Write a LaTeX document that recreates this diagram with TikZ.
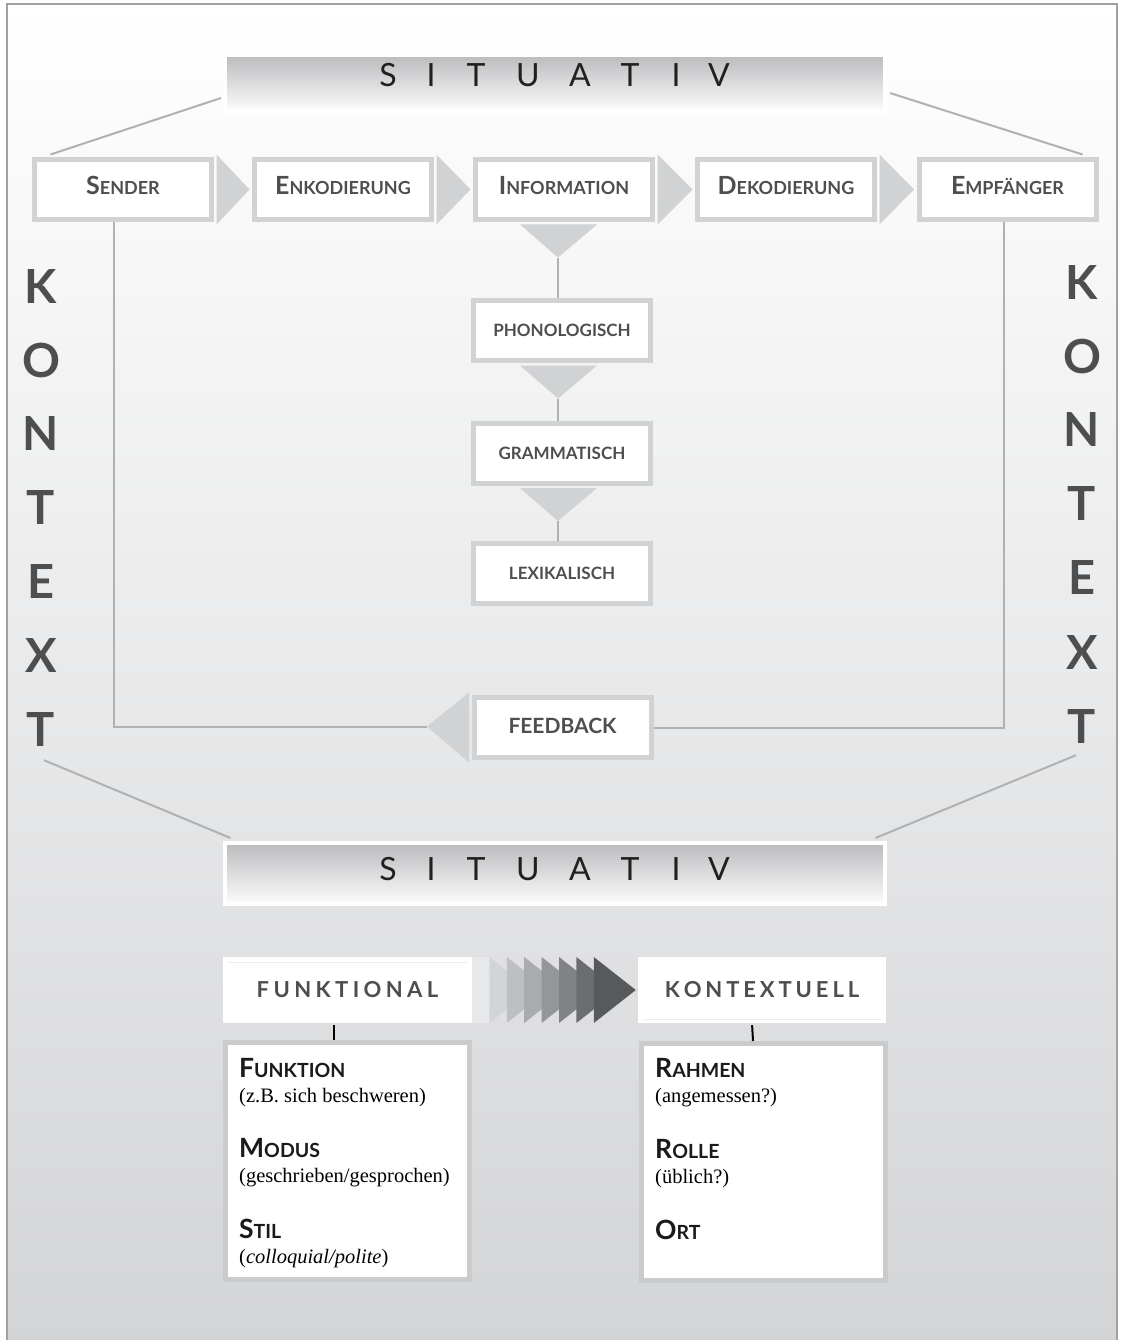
\documentclass[tikz,border=0pt]{standalone}
\usepackage{fontspec}
\newfontfamily\lato{Lato}
\newfontfamily\notefont{Liberation Serif}
\usetikzlibrary{calc}

\definecolor{boxgray}{HTML}{D1D2D4}
\definecolor{linegray}{HTML}{B0B1B3}
\definecolor{framegray}{HTML}{A0A1A3}
\definecolor{labelgray}{HTML}{4D4E50}
\definecolor{darktext}{HTML}{231F20}
\definecolor{headtext}{HTML}{1A1A1A}
\definecolor{bgbottom}{HTML}{D3D4D6}
\definecolor{bartop}{HTML}{BABBBD}
\definecolor{chevlight}{HTML}{E7E8EA}
\definecolor{chevdark}{HTML}{58595B}
\definecolor{listframe}{HTML}{CACBCD}

% fake small caps: large initial, smaller remaining capitals
\newcommand\flowsc[2]{{\fontsize{25}{25}\selectfont #1}{\fontsize{18}{18}\selectfont #2}}
\newcommand\headsc[2]{{\fontsize{26.5}{26.5}\selectfont #1}{\fontsize{19.5}{19.5}\selectfont #2}}

% letter-spaced capitals
\makeatletter
\newcommand\spacedtext[2]{\def\sp@gap{#1}\sp@loop#2\relax\kern-\sp@gap}
\def\sp@loop#1{\ifx\relax#1\else #1\kern\sp@gap\expandafter\sp@loop\fi}
\makeatother

\begin{document}
\begin{tikzpicture}[x=1pt,y=-1pt,
  conn/.style={draw=linegray, line width=2pt},
  flowbox/.style={draw=boxgray, line width=5pt, fill=white, inner sep=0pt,
    minimum width=177pt, minimum height=60pt, font=\lato\bfseries, text=labelgray},
  toplabel/.style={text height=18pt, text depth=7pt},
  stackbox/.style={flowbox, font=\lato\bfseries\fontsize{17}{17}\selectfont,
    text height=12.5pt, text depth=0pt},
  sitbar/.style={draw=white, line width=4pt, top color=bartop, bottom color=white!96!bartop,
    minimum width=660pt, minimum height=56pt, inner sep=0pt},
  sitletter/.style={anchor=base, inner sep=0pt, text=darktext,
    font=\lato\fontsize{32}{32}\selectfont},
  kletter/.style={inner sep=0pt, text=labelgray, font=\lato\bfseries\fontsize{47}{47}\selectfont},
  headbox/.style={fill=white, inner sep=0pt, minimum height=66pt, text=labelgray,
    font=\lato\bfseries\fontsize{22}{22}\selectfont},
  listbox/.style={draw=listframe, line width=5pt, fill=white, minimum width=244pt,
    minimum height=237pt, inner sep=0pt},
  listhead/.style={anchor=base west, inner sep=0pt, text=headtext, font=\lato\bfseries},
  listnote/.style={anchor=base west, inner sep=0pt, text=black, font=\notefont\fontsize{20.5}{20.5}\selectfont},
  tick/.style={draw=black, line width=2pt, shorten <=2pt}
]
\useasboundingbox (0,0) rectangle (1122,1340);
\clip (0,0) rectangle (1122,1340);

% frame with soft vertical gradient
\shade[top color=white, bottom color=bgbottom] (7,4) rectangle (1117,1346);
\draw[framegray, line width=2pt] (7,1346) -- (7,4) -- (1117,4) -- (1117,1346);

% ---------- bars ----------
\node[sitbar] (sit1) at (555,83) {};
\node[sitbar, minimum height=61pt] (sit2) at (554.5,873.5) {};
\foreach \xx/\ll [count=\i] in {388/S,431/I,476/T,528/U,580/A,630/T,676/I,719/V}{
  \node[sitletter] (sa\i) at (\xx,87) {\ll};
  \node[sitletter] (sb\i) at (\xx,880) {\ll};
}

% ---------- KONTEXT columns ----------
\foreach \ll/\yy [count=\i] in {K/287,O/361,N/434,T/508,E/582,X/656,T/730}{
  \node[kletter] (kl\i) at (41,\yy) {\ll};
}
\foreach \ll/\yy [count=\i] in {K/283,O/357,N/430,T/504,E/578,X/653,T/727}{
  \node[kletter] (kr\i) at (1082,\yy) {\ll};
}

% ---------- flow row ----------
\node[flowbox, toplabel] (sender) at (123,189.5)  {\flowsc{S}{ENDER}};
\node[flowbox, toplabel] (enk)    at (343,189.5)  {\flowsc{E}{NKODIERUNG}};
\node[flowbox, toplabel] (info)   at (564,189.5)  {\flowsc{I}{NFORMATION}};
\node[flowbox, toplabel] (dek)    at (786,189.5)  {\flowsc{D}{EKODIERUNG}};
\node[flowbox, toplabel] (emp)    at (1007.5,189.5) {\flowsc{E}{MPFÄNGER}};

\foreach \a/\b in {sender/enk, enk/info, info/dek, dek/emp}{
  \fill[boxgray] ($(\a.north east)+(2.5,-2.5)$) -- ($(\b.west)+(-2.5,0)$)
                 -- ($(\a.south east)+(2.5,2.5)$) -- cycle;
}

% ---------- level stack ----------
\node[stackbox] (phono) at (562,330.5) {PHONOLOGISCH};
\node[stackbox] (gram)  at (562,453)   {GRAMMATISCH};
\node[stackbox] (lex)   at (562,573)   {LEXIKALISCH};

\foreach \a/\b/\dx in {info/phono/-6, phono/gram/-4, gram/lex/-4}{
  \fill[boxgray] ($(\a.south)+(\dx-38,2.5)$) -- ($(\a.south)+(\dx+39,2.5)$)
                 -- ($(\a.south)+(\dx,35.5)$) coordinate (tip-\a) -- cycle;
  \draw[conn] (tip-\a) -- (tip-\a |- \b.north);
}

% ---------- feedback ----------
\node[flowbox, font=\lato\bfseries\fontsize{21}{21}\selectfont, text height=15pt, text depth=3pt]
  (fb) at (562.5,727.5) {FEEDBACK};
\fill[boxgray] ($(fb.north west)+(-2.5,-2.5)$) -- ($(fb.west)+(-44.5,-1)$) coordinate (fbtip)
               -- ($(fb.south west)+(-2.5,2.5)$) -- cycle;
\draw[conn] ([xshift=-9.5pt]sender.south) |- (fbtip);
\draw[conn] (fb.east) -| ([xshift=-4pt]emp.south);

% ---------- diagonal context lines ----------
\draw[conn] ($(sit1.west)+(-2,15)$) -- ($(sender.north west)+(18.5,-2.5)$);
\draw[conn] ($(sit1.east)+(3,10)$) -- ($(emp.north east)+(-16,-2.5)$);
\draw[conn] ($(kl7.south)+(3,13)$) -- ($(sit2.north west)+(8,-3)$);
\draw[conn] ($(kr7.south)+(-6,11)$) -- ($(sit2.north east)+(-11,-3)$);

% ---------- lower section ----------
\node[headbox, minimum width=249pt] (funk) at (347.5,990) {\spacedtext{4.4pt}{FUNKTIONAL}};
\node[headbox, minimum width=248pt] (kont) at (762,990)   {\spacedtext{3.9pt}{KONTEXTUELL}};
\draw[gray!14, line width=0.8pt] ([shift={(5,6)}]funk.north west) -- ([shift={(-5,6)}]funk.north east);
\draw[gray!14, line width=0.8pt] ([shift={(5,-4)}]kont.south west) -- ([shift={(-5,-4)}]kont.south east);

% chevron arrow from light to dark
\foreach \i in {0,...,7}{
  \pgfmathsetmacro\pct{100*\i/7}
  \pgfmathsetmacro\bx{472+17.4*\i}
  \fill[chevdark!\pct!chevlight] (\bx,957) -- (\bx+42,990) -- (\bx,1023) -- cycle;
}
\fill[chevlight] (472,957) -- (489.4,957) -- (489.4,1023) -- (472,1023) -- cycle;
\fill[chevlight] (489.4,957) -- (489.4,1023) -- (472,990) -- cycle;

\node[listbox] (lbox) at (347.5,1161) {};
\node[listbox] (rbox) at (763,1162)   {};
\draw[tick] ([xshift=-13.5pt]funk.south) -- ([xshift=-13.5pt]lbox.north);
\draw[tick] ([xshift=-10pt]kont.south) -- ([xshift=-10pt]rbox.north);

\node[listhead] (l1) at (239,1077) {\headsc{F}{UNKTION}};
\node[listnote] (l2) at (239,1102) {(z.B. sich beschweren)};
\node[listhead] (l3) at (239,1157) {\headsc{M}{ODUS}};
\node[listnote] (l4) at (239,1182) {(geschrieben/gesprochen)};
\node[listhead] (l5) at (239,1238) {\headsc{S}{TIL}};
\node[listnote] (l6) at (239,1263) {(\textit{colloquial/polite})};

\node[listhead] (r1) at (655,1077) {\headsc{R}{AHMEN}};
\node[listnote] (r2) at (655,1102) {(angemessen?)};
\node[listhead] (r3) at (655,1158) {\headsc{R}{OLLE}};
\node[listnote] (r4) at (655,1183) {(üblich?)};
\node[listhead] (r5) at (655,1239) {\headsc{O}{RT}};
\end{tikzpicture}
\end{document}
